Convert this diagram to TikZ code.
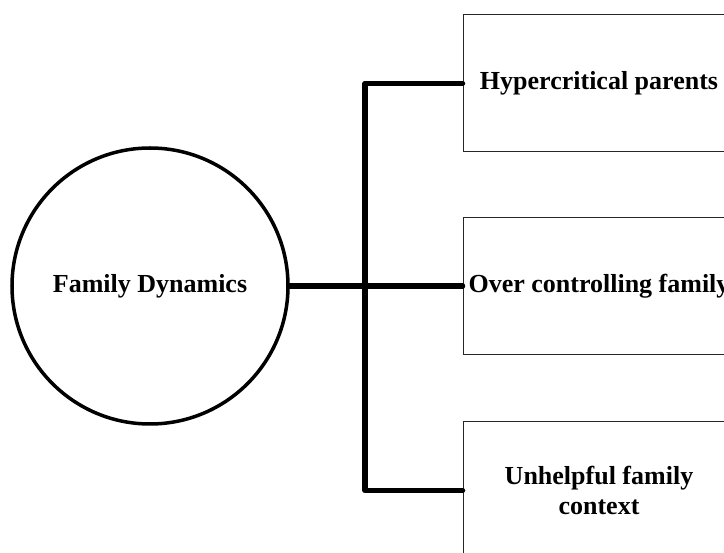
\documentclass[tikz,border=0pt]{standalone}
\usepackage{fontspec}
\setmainfont{Liberation Serif}
\begin{document}
\begin{tikzpicture}[x=1pt,y=-1pt,
  every node/.style={font=\fontsize{26}{30}\selectfont\bfseries},
  hub/.style={circle,draw,line width=3.5pt,minimum size=276pt,inner sep=0pt},
  itembox/.style={rectangle,draw=black!85,line width=1pt,minimum width=272pt,minimum height=137pt,inner sep=0pt,align=center},
  conn/.style={line width=5.5pt,line cap=round,line join=round}]
  \useasboundingbox (0,0) rectangle (724,553);
  \clip (0,0) rectangle (724,553);
  % central topic and the three factors
  \node[hub] (fd) at (150,286) {Family Dynamics};
  \node[itembox] (b1) at (599,83.5) {Hypercritical parents};
  \node[itembox] (b2) at (599,286) {Over controlling family};
  \node[itembox] (b3) at (599,490.5) {Unhelpful family\\context};
  % vertical trunk position
  \coordinate (trunk) at (365,0);
  % connectors
  \draw[conn] (b1.west) -- (trunk |- b1.west) -- (trunk |- b3.west) -- (b3.west);
  \draw[conn] (fd.east) -- (b2.west);
\end{tikzpicture}
\end{document}
